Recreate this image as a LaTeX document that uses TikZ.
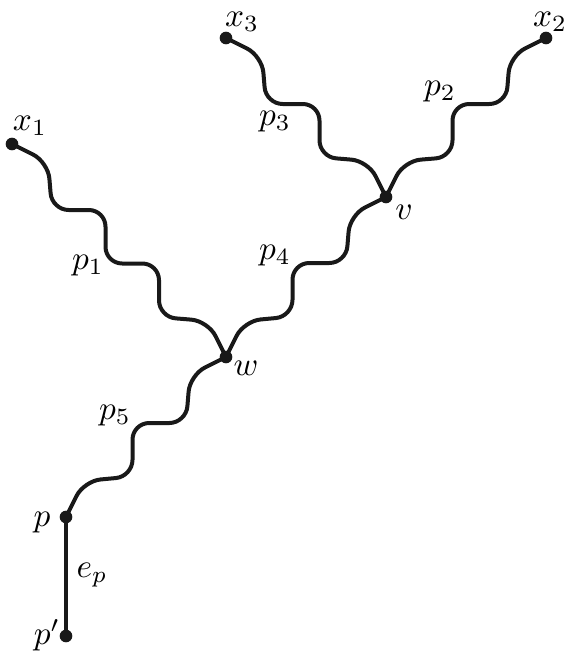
\documentclass[tikz,border=0pt]{standalone}
\begin{document}
\begin{tikzpicture}[x=0.3pt,y=-0.3pt,
  dot/.style={circle,fill=black!90,inner sep=0pt,minimum size=3.8pt},
  wire/.style={line width=1.2pt,black!90,rounded corners=5pt},
  lbl/.style={inner sep=0pt}]
\useasboundingbox (0,0) rectangle (579,654);
\node[dot] (x1) at (12,144) {};
\node[dot] (x3) at (226,38) {};
\node[dot] (x2) at (546,38) {};
\node[dot] (v) at (386,197) {};
\node[dot] (w) at (226,357) {};
\node[dot] (p) at (66,517) {};
\node[dot] (pp) at (66,636) {};
\draw[wire] (x1.center) -- (48,162) -- (52,210) -- (105.5,210) -- (105.5,263.5) -- (159,263.5) -- (159,317) -- (208,321) -- (w.center);
\draw[wire] (x3.center) -- (262,56) -- (266,104) -- (319.5,104) -- (319.5,157) -- (368,161) -- (v.center);
\draw[wire] (x2.center) -- (510,56) -- (506,104) -- (452.5,104) -- (452.5,157) -- (404,161) -- (v.center);
\draw[wire] (v.center) -- (350,215) -- (346,263) -- (292.5,263) -- (292.5,316.5) -- (244,321) -- (w.center);
\draw[wire] (w.center) -- (190,375) -- (186,423) -- (132.5,423) -- (132.5,476.5) -- (84,481) -- (p.center);
\draw[line width=1.2pt,black!90] (p.center) -- (pp.center);
\node[lbl] (lx1) at (30,126) {$x_1$};
\node[lbl] (lx3) at (242,22) {$x_3$};
\node[lbl] (lx2) at (550,22) {$x_2$};
\node[lbl] (lp3) at (275,122) {$p_3$};
\node[lbl] (lp2) at (440,92) {$p_2$};
\node[lbl] (lv) at (404,212) {$v$};
\node[lbl] (lp4) at (275,256) {$p_4$};
\node[lbl] (lw) at (246,368) {$w$};
\node[lbl] (lp1) at (88,266) {$p_1$};
\node[lbl] (lp5) at (115,416) {$p_5$};
\node[lbl] (lp) at (42,523) {$p$};
\node[lbl] (lep) at (92,575) {$e_p$};
\node[lbl] (lpp) at (47,635) {$p'$};
\end{tikzpicture}
\end{document}
